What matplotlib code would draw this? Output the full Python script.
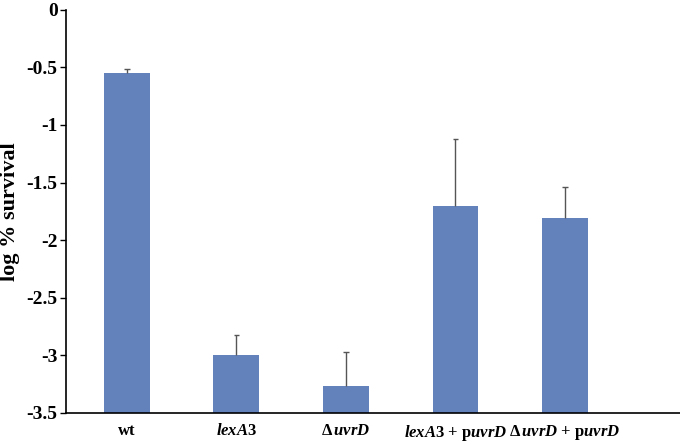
import numpy as np
import matplotlib.pyplot as plt

# data
strains = ['wt', r'$\mathit{lexA}$3', r'Δ$\,\mathit{uvrD}$',
           r'$\mathit{lexA}$3 + p$\mathit{uvrD}$', r'Δ$\,\mathit{uvrD}$ + p$\mathit{uvrD}$']
survival = [-0.545, -3.0, -3.27, -1.70, -1.81]
err_up = [0.03, 0.18, 0.30, 0.58, 0.27]
yticks = [0, -0.5, -1, -1.5, -2, -2.5, -3, -3.5]
base = -3.5

plt.rcParams['font.family'] = 'Liberation Serif'
plt.rcParams['font.weight'] = 'bold'
plt.rcParams['mathtext.fontset'] = 'custom'
plt.rcParams['mathtext.rm'] = 'Liberation Serif:bold'
plt.rcParams['mathtext.it'] = 'Liberation Serif:italic:bold'
plt.rcParams['mathtext.bf'] = 'Liberation Serif:bold'

fig = plt.figure(figsize=(6.8, 4.45), dpi=100)
ax = fig.add_axes([0.097, 0.072, 0.903, 0.906])

x = np.arange(len(strains))
vals = np.array(survival)
tops = vals + np.array(err_up)
ax.bar(x, vals - base, bottom=base, width=0.42, color='#6382BB', zorder=2)
# plus-only error bars: stem from bar top, small cap at the end
ax.vlines(x, vals, tops, color='#555555', linewidth=1, zorder=3)
ax.hlines(tops, x - 0.025, x + 0.025, color='#555555', linewidth=1, zorder=3)

ax.set_xlim(-0.557, 5.05)
ax.set_ylim(base, 0)
ax.set_yticks(yticks)
ax.set_yticklabels([f'{t:g}' for t in yticks], fontsize=14, fontweight='bold')
ax.set_xticks(x)
ax.set_xticklabels(strains, fontsize=12, fontweight='bold')
ax.tick_params(axis='x', length=0, pad=7)
ax.tick_params(axis='y', length=4, width=1, direction='out', pad=2)
ax.set_ylabel('log % survival', fontsize=16, fontweight='bold')
ax.yaxis.set_label_coords(-0.075, 0.5)

ax.spines['top'].set_visible(False)
ax.spines['right'].set_visible(False)
for s in ('left', 'bottom'):
    ax.spines[s].set_linewidth(1.2)

fig.savefig('out.png', dpi=100)
